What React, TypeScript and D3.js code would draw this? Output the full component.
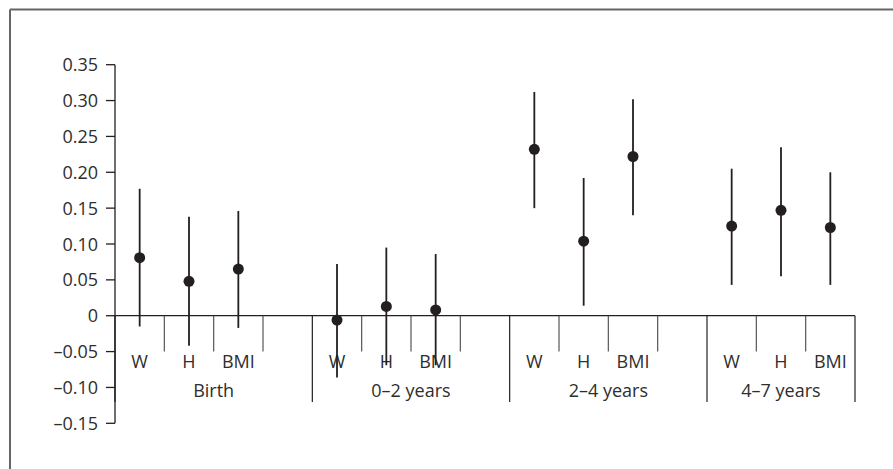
import React from "react";
import * as d3 from "d3";

const groups = ["Birth", "0–2 years", "2–4 years", "4–7 years"];
const measures = ["W", "H", "BMI"];
const estimates = [
  [0.081, 0.048, 0.065],
  [-0.006, 0.013, 0.008],
  [0.232, 0.104, 0.222],
  [0.125, 0.147, 0.123],
];
const lowers = [
  [-0.015, -0.042, -0.017],
  [-0.086, -0.069, -0.069],
  [0.15, 0.014, 0.14],
  [0.043, 0.055, 0.043],
];
const uppers = [
  [0.177, 0.138, 0.146],
  [0.072, 0.095, 0.086],
  [0.312, 0.192, 0.302],
  [0.205, 0.235, 0.2],
];
const yTicks = [0.35, 0.3, 0.25, 0.2, 0.15, 0.1, 0.05, 0, -0.05, -0.1, -0.15];

const W = 893;
const H = 469;
const FONT = "'Open Sans', 'Noto Sans', sans-serif";
const FS = 18;
const INK = "#231f20";
const TEXT = "#2e2e2e";

function fmt(v: number) {
  if (v === 0) return "0";
  const s = Math.abs(v).toFixed(2);
  return v < 0 ? "–" + s : s;
}

export default function App() {
  const slots: { g: number; m: number }[] = [];
  groups.forEach((_, g) => {
    measures.forEach((_, m) => slots.push({ g, m }));
    if (g < groups.length - 1) slots.push({ g, m: -1 });
  });
  const slotKeys = slots.map((_, i) => String(i));
  const x = d3.scaleBand<string>().domain(slotKeys).range([115, 855]).padding(0);
  const y = d3.scaleLinear().domain([-0.15, 0.35]).range([423.3, 64.7]);
  const bw = x.bandwidth();
  const y0 = y(0);

  const slotIndex = (g: number, m: number) =>
    slots.findIndex((s) => s.g === g && s.m === m);

  const groupStart = groups.map((_, g) => x(String(slotIndex(g, 0)))!);
  const groupEnd = groups.map((_, g) => {
    const lastIdx = g < groups.length - 1 ? slotIndex(g, -1) : slotIndex(g, 2);
    return x(String(lastIdx))! + bw;
  });

  return (
    <svg width={W} height={H} style={{ position: "absolute", left: 0, top: 0 }}>
      <rect x={0} y={0} width={W} height={H} fill="#fff" />
      <line x1={10} y1={9.5} x2={W} y2={9.5} stroke="#666" strokeWidth={2} />
      <line x1={10} y1={9.5} x2={10} y2={H} stroke="#666" strokeWidth={2} />

      <line x1={115} y1={y(0.35)} x2={115} y2={y(-0.15)} stroke={INK} strokeWidth={1.3} />
      {yTicks.map((t) => (
        <g key={t}>
          <line x1={106} x2={115} y1={y(t)} y2={y(t)} stroke={INK} strokeWidth={1.3} />
          <text x={98} y={y(t) + 6.5} textAnchor="end" fontFamily={FONT} fontSize={FS} fill={TEXT}>
            {fmt(t)}
          </text>
        </g>
      ))}

      <line x1={115} x2={855} y1={y0} y2={y0} stroke={INK} strokeWidth={1.3} />
      {slots.map((s, i) => {
        const xr = x(String(i))! + bw;
        const isGroupEnd = groupEnd.some((e) => Math.abs(e - xr) < 0.01);
        return (
          <line
            key={"t" + i}
            x1={xr}
            x2={xr}
            y1={y0}
            y2={isGroupEnd ? 402 : 351.5}
            stroke={isGroupEnd ? INK : "#555"}
            strokeWidth={1.2}
          />
        );
      })}
      <line x1={115} x2={115} y1={y0} y2={402} stroke={INK} strokeWidth={1.3} />

      {slots.map((s, i) =>
        s.m >= 0 ? (
          <text
            key={"l" + i}
            x={x(String(i))! + bw / 2}
            y={367.7}
            textAnchor="middle"
            fontFamily={FONT}
            fontSize={FS}
            fill={TEXT}
          >
            {measures[s.m]}
          </text>
        ) : null
      )}
      {groups.map((g, gi) => (
        <text
          key={g}
          x={(groupStart[gi] + groupEnd[gi]) / 2}
          y={397.3}
          textAnchor="middle"
          fontFamily={FONT}
          fontSize={FS}
          fill={TEXT}
        >
          {g}
        </text>
      ))}

      {groups.map((_, g) =>
        measures.map((__, m) => {
          const cx = x(String(slotIndex(g, m)))! + bw / 2;
          return (
            <g key={g + "-" + m}>
              <line
                x1={cx}
                x2={cx}
                y1={y(uppers[g][m])}
                y2={y(lowers[g][m])}
                stroke={INK}
                strokeWidth={1.8}
              />
              <circle cx={cx} cy={y(estimates[g][m])} r={5.5} fill={INK} />
            </g>
          );
        })
      )}
    </svg>
  );
}
